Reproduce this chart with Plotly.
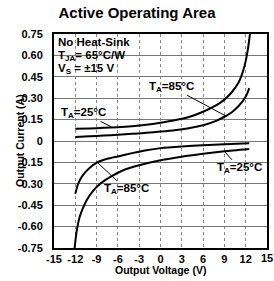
import plotly.graph_objects as go

# ---- data ----
x_ticks = [-15, -12, -9, -6, -3, 0, 3, 6, 9, 12, 15]
y_ticks = [0.75, 0.60, 0.45, 0.30, 0.15, 0, -0.15, -0.30, -0.45, -0.60, -0.75]
y_tick_text = ["0.75", "0.60", "0.45", "0.30", "0.15", "0", "-0.15", "-0.30", "-0.45", "-0.60", "-0.75"]

v_up_25 = [-12, -10, -8, -6, -4, -2, 0, 2, 4, 6, 8, 9, 10, 11, 11.5, 12, 12.3, 12.6]
i_up_25 = [0.085, 0.088, 0.092, 0.097, 0.104, 0.114, 0.128, 0.145, 0.168, 0.205, 0.255, 0.29, 0.34, 0.41, 0.47, 0.56, 0.64, 0.75]

v_up_85 = [-12, -10, -8, -6, -4, -2, 0, 2, 4, 6, 8, 9, 10, 11, 12, 12.5]
i_up_85 = [0.028, 0.033, 0.038, 0.044, 0.050, 0.057, 0.066, 0.076, 0.090, 0.110, 0.145, 0.170, 0.200, 0.245, 0.310, 0.370]

v_lo_25 = [-12.1, -11.8, -11.4, -11, -10.4, -9.5, -8.5, -7, -5, -3, 0, 3, 6, 9, 12.5]
i_lo_25 = [-0.75, -0.63, -0.535, -0.48, -0.415, -0.35, -0.30, -0.25, -0.20, -0.17, -0.135, -0.11, -0.09, -0.072, -0.056]

v_lo_85 = [-12, -11.6, -11, -10, -8.9, -7.5, -6, -4, -2, 0, 3, 6, 9, 12.5]
i_lo_85 = [-0.37, -0.30, -0.245, -0.19, -0.15, -0.125, -0.108, -0.085, -0.065, -0.05, -0.038, -0.03, -0.022, -0.015]

FONT = "Liberation Sans, Arial, sans-serif"
tickfont = dict(family=FONT, size=11, color="black", weight="bold")

fig = go.Figure()
for vx, iy in [(v_up_25, i_up_25), (v_up_85, i_up_85), (v_lo_25, i_lo_25), (v_lo_85, i_lo_85)]:
    fig.add_trace(go.Scatter(x=vx, y=iy, mode="lines", line=dict(color="black", width=2, shape="spline", smoothing=0.6),
                             showlegend=False, hoverinfo="skip"))

# the last x tick label sits at the page edge, where plotly drops it; draw it as text at its tick value
x_tick_text = [str(t) for t in x_ticks[:-1]] + [""]

lbl = dict(family=FONT, size=11.5, color="black", weight="bold")
annotations = [
    dict(text=str(x_ticks[-1]), x=x_ticks[-1], xref="x", yref="paper", y=-0.045, yanchor="middle",
         xanchor="center", showarrow=False, font=tickfont),
    dict(text="No Heat-Sink", xref="paper", yref="paper", x=0.008, y=1.0, xanchor="left", yanchor="top",
         showarrow=False, font=lbl),
    dict(text="T<sub>JA</sub>= 65°C/W", xref="paper", yref="paper", x=0.008, y=0.94, xanchor="left", yanchor="top",
         showarrow=False, font=lbl),
    dict(text="V<sub>S</sub> = ±15 V", xref="paper", yref="paper", x=0.008, y=0.877, xanchor="left", yanchor="top",
         showarrow=False, font=lbl),
    dict(text="T<sub>A</sub>=25°C", x=-6.9, y=0.099, ax=-28, ay=-14, showarrow=True, arrowhead=0,
         arrowwidth=1, arrowcolor="black", font=lbl),
    dict(text="T<sub>A</sub>=85°C", x=9.4, y=0.17, ax=-56, ay=-30, showarrow=True, arrowhead=0,
         arrowwidth=1, arrowcolor="black", font=lbl),
    dict(text="T<sub>A</sub>=25°C", x=9.0, y=-0.072, ax=15, ay=17, showarrow=True, arrowhead=0,
         arrowwidth=1, arrowcolor="black", font=lbl),
    dict(text="T<sub>A</sub>=85°C", x=-8.9, y=-0.15, ax=29, ay=27, showarrow=True, arrowhead=0,
         arrowwidth=1, arrowcolor="black", font=lbl),
    dict(text="Output Current (A)", xref="paper", yref="paper", x=-0.197, y=0.5, textangle=-90,
         showarrow=False, font=dict(family=FONT, size=10.5, color="black", weight="bold")),
    dict(text="Output Voltage (V)", xref="paper", yref="paper", x=0.5, y=-0.105, yanchor="middle",
         showarrow=False, font=dict(family=FONT, size=10.5, color="black", weight="bold")),
]

fig.update_layout(
    width=274, height=281,
    margin=dict(l=54, r=7, t=34, b=33, autoexpand=False),
    paper_bgcolor="white", plot_bgcolor="white",
    title=dict(text="Active Operating Area", x=0.5, xanchor="center", y=0.975, yanchor="top",
               font=dict(family=FONT, size=15, color="black", weight="bold")),
    annotations=annotations,
    xaxis=dict(range=[-15, 15], tickvals=x_ticks, ticktext=x_tick_text,
               showgrid=True, gridcolor="#888", griddash="dot", gridwidth=1,
               showline=True, linecolor="black", linewidth=2, mirror=True, zeroline=False,
               ticks="", automargin=False, ticklabeloverflow="allow",
               tickfont=tickfont),
    yaxis=dict(range=[-0.75, 0.75], tickvals=y_ticks, ticktext=y_tick_text,
               showgrid=True, gridcolor="#777", gridwidth=1,
               showline=True, linecolor="black", linewidth=2, mirror=True, zeroline=False,
               ticks="outside", ticklen=7, tickcolor="rgba(0,0,0,0)", automargin=False,
               ticklabeloverflow="allow",
               tickfont=tickfont),
)

fig.write_html("out.html", config={"displayModeBar": False},
               post_script="document.body.style.margin='0';document.body.style.overflow='hidden';")
